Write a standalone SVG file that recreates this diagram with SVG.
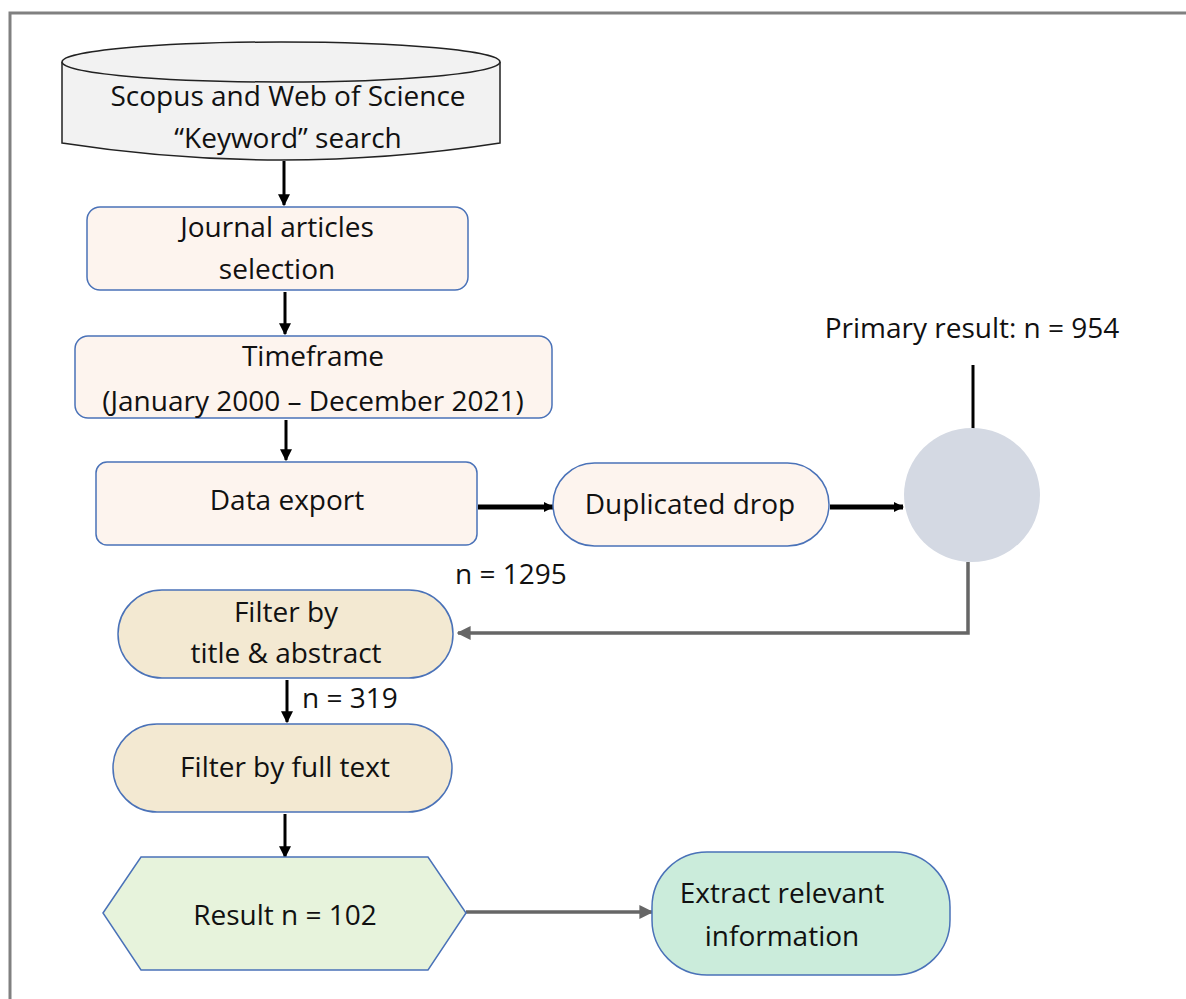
<svg xmlns="http://www.w3.org/2000/svg" width="1186" height="999" viewBox="0 0 1186 999">
<style>
text{font-family:"Open Sans","Liberation Sans",sans-serif;font-size:28px;fill:#111;text-anchor:middle}
.box{stroke:#4a72b8;stroke-width:1.5}
.peach{fill:#fdf4ee}
.tan{fill:#f3e9d2}
.blk{stroke:#000;stroke-width:3;fill:none}
.thick{stroke:#000;stroke-width:5;fill:none}
.gray{stroke:#666;stroke-width:3.5;fill:none}
</style>
<defs>
<marker id="ah" viewBox="0 0 10 10" refX="9" refY="5" markerWidth="4" markerHeight="4" orient="auto" markerUnits="strokeWidth"><path d="M0,0 L10,5 L0,10 z" fill="#000"/></marker>
<marker id="ahT" viewBox="0 0 10 10" refX="9" refY="5" markerWidth="2" markerHeight="2" orient="auto" markerUnits="strokeWidth"><path d="M0,0 L10,5 L0,10 z" fill="#000"/></marker>
<marker id="ahG" viewBox="0 0 10 10" refX="9" refY="5" markerWidth="4" markerHeight="4" orient="auto" markerUnits="strokeWidth"><path d="M0,0 L10,5 L0,10 z" fill="#666"/></marker>
</defs>
<rect width="1186" height="999" fill="#fff"/>
<path d="M10,999 V13 H1186" fill="none" stroke="#808080" stroke-width="3"/>

<g id="connectors">
<line class="blk" x1="284" y1="161" x2="284" y2="205" marker-end="url(#ah)"/>
<line class="blk" x1="285" y1="292" x2="285" y2="334" marker-end="url(#ah)"/>
<line class="blk" x1="286" y1="420" x2="286" y2="460" marker-end="url(#ah)"/>
<line class="thick" x1="478" y1="507" x2="553" y2="507" marker-end="url(#ahT)"/>
<line class="thick" x1="830" y1="507" x2="903" y2="507" marker-end="url(#ahT)"/>
<line stroke="#000" stroke-width="3" x1="973" y1="365" x2="973" y2="463"/>
<circle cx="973" cy="463" r="5" fill="#000"/>
<path class="gray" d="M968,562 V633 H458" marker-end="url(#ahG)"/>
<line class="blk" x1="287" y1="680" x2="287" y2="722" marker-end="url(#ah)"/>
<line class="blk" x1="285" y1="814" x2="285" y2="857" marker-end="url(#ah)"/>
<line class="gray" x1="466" y1="912" x2="652" y2="912" marker-end="url(#ahG)"/>
</g>

<g id="n-search">
<path d="M62,62 V143 Q281,177 500,143 V62" fill="#f2f2f2" stroke="#222" stroke-width="1.5"/>
<ellipse cx="281" cy="62" rx="219" ry="20" fill="#f2f2f2" stroke="#222" stroke-width="1.5"/>
<text x="288" y="106">Scopus and Web of Science</text>
<text x="288" y="148">“Keyword” search</text>
</g>

<g id="n-journal">
<rect class="box peach" x="87" y="207" width="381" height="83" rx="13"/>
<text x="277" y="237">Journal articles</text>
<text x="277" y="279">selection</text>
</g>

<g id="n-timeframe">
<rect class="box peach" x="75" y="336" width="477" height="82" rx="13"/>
<text x="313" y="366">Timeframe</text>
<text x="313" y="411">(January 2000 – December 2021)</text>
</g>

<g id="n-export">
<rect class="box peach" x="96" y="462" width="381" height="83" rx="11"/>
<text x="287" y="510">Data export</text>
</g>

<g id="n-dup">
<rect class="box peach" x="553" y="463" width="276" height="83" rx="41.5"/>
<text x="690" y="514">Duplicated drop</text>
</g>

<g id="n-primary">
<ellipse cx="972" cy="495" rx="68" ry="67" fill="#d4d9e3"/>
<text x="972" y="338">Primary result: n = 954</text>
</g>

<g id="n-1295">
<text x="511" y="584">n = 1295</text>
</g>

<g id="n-filter1">
<rect class="box tan" x="118" y="590" width="335" height="88" rx="44"/>
<text x="286" y="622">Filter by</text>
<text x="286" y="663">title &amp; abstract</text>
</g>

<g id="n-319">
<text x="350" y="708">n = 319</text>
</g>

<g id="n-filter2">
<rect class="box tan" x="113" y="724" width="339" height="88" rx="44"/>
<text x="285" y="777">Filter by full text</text>
</g>

<g id="n-result">
<polygon class="box" points="103,913 141,857 428,857 466,913 428,970 141,970" fill="#e7f3dc"/>
<text x="285" y="925">Result n = 102</text>
</g>

<g id="n-extract">
<rect class="box" x="652" y="852" width="298" height="123" rx="55" fill="#cbecdb"/>
<text x="782" y="903">Extract relevant</text>
<text x="782" y="946">information</text>
</g>
</svg>
